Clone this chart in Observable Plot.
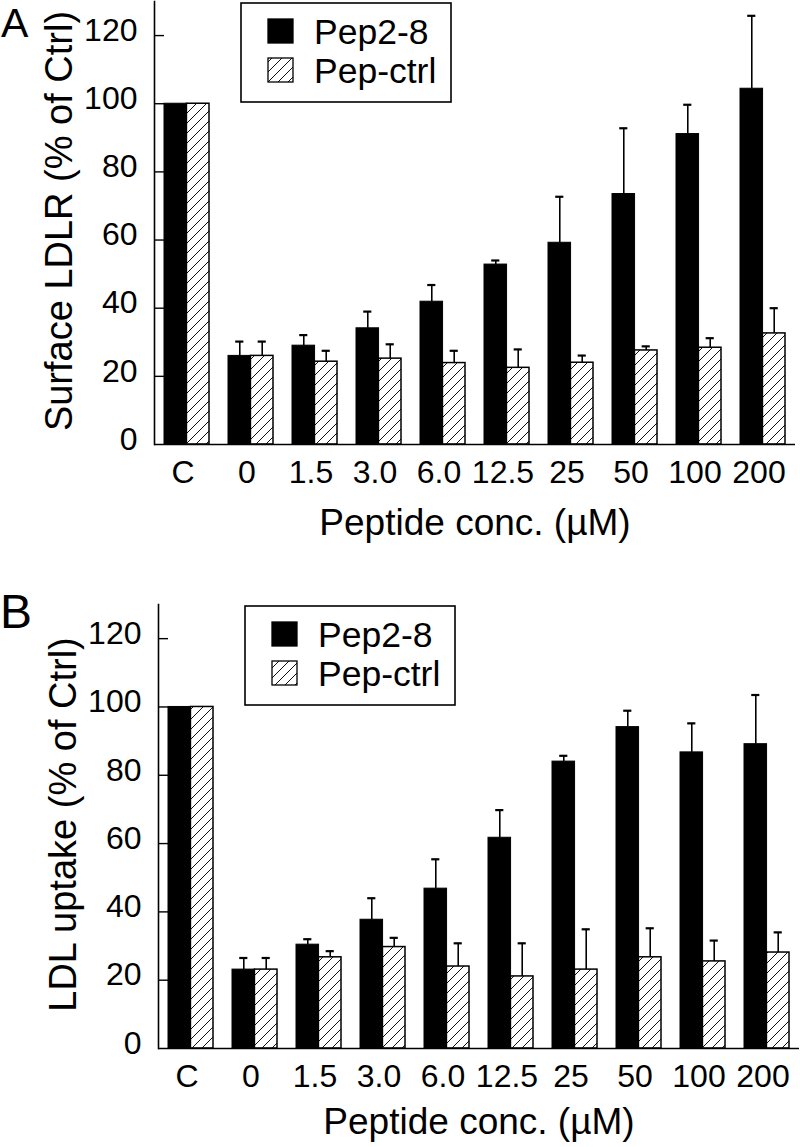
<!DOCTYPE html>
<html><head><meta charset="utf-8">
<script src="https://cdn.jsdelivr.net/npm/d3@7"></script>
<script src="https://cdn.jsdelivr.net/npm/@observablehq/plot@0.6"></script>
<style>
body{margin:0;background:#fff;}
#page{position:relative;width:800px;height:1147px;overflow:hidden;background:#fff;font-family:"Liberation Sans",Arial,Helvetica,sans-serif;}
.panel{position:absolute;left:0;}
.panel svg{display:block;}
</style></head><body>
<div id="page"><div id="pa" class="panel" style="top:0px"></div><div id="pb" class="panel" style="top:570px"></div></div>
<script>
// ---- data ----
const groups = ["C", "0", "1.5", "3.0", "6.0", "12.5", "25", "50", "100", "200"];
const seriesNames = ["Pep2-8", "Pep-ctrl"];
const yTicks = [0, 20, 40, 60, 80, 100, 120];
const xTitle = "Peptide conc. (µM)";

// Panel A: Surface LDLR
const surfacePep     = [100, 26.0, 29.0, 34.1, 41.9, 52.8, 59.2, 73.5, 91.1, 104.4];
const surfacePepErr  = [0,   4.2,  3.1,  4.9,  4.9,  1.2,  13.5, 19.3, 8.6,  21.4];
const surfaceCtrl    = [100, 26.0, 24.3, 25.2, 23.9, 22.5, 24.0, 27.6, 28.4, 32.6];
const surfaceCtrlErr = [0,   4.2,  3.2,  4.2,  3.6,  5.4,  2.1,  1.2,  2.8,  7.4];

// Panel B: LDL uptake
const uptakePep     = [100, 23.1, 30.4, 37.7, 46.8, 61.7, 84.0, 94.1, 86.7, 89.1];
const uptakePepErr  = [0,   3.4,  1.6,  6.3,  8.6,  8.1,  1.7,  4.8,  8.5,  14.4];
const uptakeCtrl    = [100, 23.1, 26.7, 29.7, 24.0, 21.1, 23.1, 26.7, 25.5, 28.1];
const uptakeCtrlErr = [0,   3.4,  1.8,  2.7,  6.8,  9.7,  11.8, 8.5,  6.1,  5.9];

const FONT = '"Liberation Sans", Arial, Helvetica, sans-serif';

function panel(cfg) {
  const {el, id, letter, letterSize, letterX, letterY, ylabel, pep, pepErr, ctrl, ctrlErr,
         marginLeft, marginRight, marginTop, marginBottom, height, titleDy} = cfg;
  const width = 800;
  const data = groups.map((g, i) => ({group: g, pep: pep[i], pepErr: pepErr[i], ctrl: ctrl[i], ctrlErr: ctrlErr[i]}));
  const errData = data.filter(d => d.pepErr > 0 || d.ctrlErr > 0);
  const pI = 0.3, pO = 0.15;
  const innerW = width - marginLeft - marginRight;
  const step = innerW / (groups.length - pI + 2 * pO);
  const bw = step * (1 - pI);
  const half = bw / 2, q = bw / 4, capHalf = 4;
  const fid = id + "-hatch";

  const chart = Plot.plot({
    width, height, marginLeft, marginRight, marginTop, marginBottom,
    style: {fontFamily: FONT, background: "white", overflow: "visible", color: "black"},
    x: {domain: groups, paddingInner: pI, paddingOuter: pO, axis: null},
    y: {domain: [0, 130], axis: null},
    marks: [
      Plot.barY(data, {x: "group", y: "pep", fill: "black", stroke: "black", strokeWidth: 1, insetRight: half}),
      Plot.barY(data, {x: "group", y: "ctrl", fill: `url(#${fid})`, stroke: "black", strokeWidth: 1.5, insetLeft: half}),
      Plot.ruleX(errData, {x: "group", y1: "pep", y2: d => d.pep + d.pepErr, dx: -q, strokeWidth: 1.6}),
      Plot.tickY(errData, {x: "group", y: d => d.pep + d.pepErr, insetLeft: q - capHalf, insetRight: 3 * q - capHalf, strokeWidth: 2.2}),
      Plot.ruleX(errData, {x: "group", y1: "ctrl", y2: d => d.ctrl + d.ctrlErr, dx: q, strokeWidth: 1.6}),
      Plot.tickY(errData, {x: "group", y: d => d.ctrl + d.ctrlErr, insetLeft: 3 * q - capHalf, insetRight: q - capHalf, strokeWidth: 2.2}),
      Plot.frame({anchor: "left", strokeWidth: 1.6}),
      Plot.ruleY([0], {strokeWidth: 1.6}),
      Plot.tickY(yTicks.filter(t => t > 0), {y: d => d, insetRight: innerW - 10, strokeWidth: 1.4}),
      Plot.axisY({ticks: yTicks, tickSize: 0, tickPadding: 17, fontSize: 32, dy: -5, label: null}),
      Plot.axisX({tickSize: 0, tickPadding: 16, fontSize: 32, dx: -4, label: null}),
      Plot.text([ylabel], {text: d => d, frameAnchor: "left", textAnchor: "middle", rotate: -90, dx: -109, dy: -2, lineAnchor: "top", fontSize: 38}),
      Plot.text([xTitle], {text: d => d, frameAnchor: "bottom", textAnchor: "middle", dy: titleDy, lineAnchor: "top", fontSize: 37})
    ]
  });

  const svg = d3.select(chart);
  const defs = svg.insert("defs", ":first-child");
  const T = 10;
  const pat = defs.append("pattern").attr("id", fid).attr("patternUnits", "userSpaceOnUse")
    .attr("width", T).attr("height", T);
  pat.append("rect").attr("width", T).attr("height", T).attr("fill", "white");
  pat.append("path").attr("d", `M${-T/4},${T/4} L${T/4},${-T/4} M0,${T} L${T},0 M${3*T/4},${5*T/4} L${5*T/4},${3*T/4}`)
    .attr("stroke", "#111").attr("stroke-width", 1);

  // legend
  const lx = marginLeft + 87, ly = marginTop + 2;
  const lg = svg.append("g").attr("font-family", FONT).attr("text-anchor", "start");
  lg.append("rect").attr("x", lx).attr("y", ly).attr("width", 210).attr("height", 99)
    .attr("fill", "white").attr("stroke", "black").attr("stroke-width", 1.6);
  seriesNames.forEach((name, i) => {
    const sy = ly + 16 + i * 39;
    lg.append("rect").attr("x", lx + 27).attr("y", sy).attr("width", 25).attr("height", 24)
      .attr("fill", i === 0 ? "black" : `url(#${fid})`).attr("stroke", "black").attr("stroke-width", 1.3);
    lg.append("text").attr("x", lx + 73).attr("y", sy + 24.5).attr("font-size", 35.5)
      .attr("text-anchor", "start").attr("fill", "black").text(name);
  });

  // panel letter
  svg.append("text").attr("x", letterX).attr("y", letterY).attr("font-family", FONT)
    .attr("text-anchor", "start").attr("font-size", letterSize).attr("fill", "black").text(letter);

  document.getElementById(el).appendChild(chart);
}

panel({el: "pa", id: "a", letter: "A", letterSize: 41, letterX: 1, letterY: 37,
  ylabel: "Surface LDLR (% of Ctrl)", pep: surfacePep, pepErr: surfacePepErr, ctrl: surfaceCtrl, ctrlErr: surfaceCtrlErr,
  marginLeft: 154, marginRight: 5, marginTop: 1, marginBottom: 126, height: 570, titleDy: 64});

panel({el: "pb", id: "b", letter: "B", letterSize: 48, letterX: 0, letterY: 58,
  ylabel: "LDL uptake (% of Ctrl)", pep: uptakePep, pepErr: uptakePepErr, ctrl: uptakeCtrl, ctrlErr: uptakeCtrlErr,
  marginLeft: 158, marginRight: 1, marginTop: 34, marginBottom: 99, height: 577, titleDy: 59});
</script>
</body></html>
